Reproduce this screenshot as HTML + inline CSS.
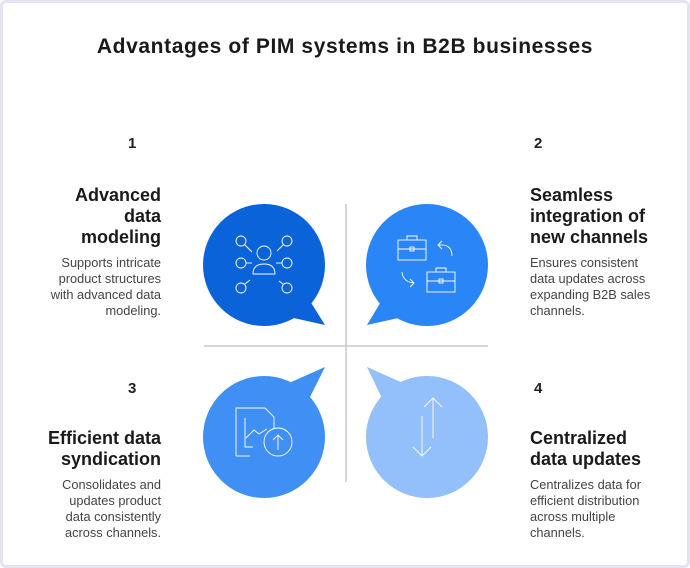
<!DOCTYPE html>
<html><head><style>
body{margin:0;width:690px;height:568px;background:#fff;font-family:"Liberation Sans",sans-serif;}
.frame{position:absolute;left:0;top:0;width:684px;height:562px;border:3px solid #e3e3f3;border-radius:6px;}
h1{position:absolute;left:0;width:690px;top:35px;margin:0;text-align:center;font-size:21px;letter-spacing:0.6px;font-weight:bold;color:#1a1a1a;}
.n{position:absolute;font-size:15px;font-weight:bold;color:#222;}
.h{position:absolute;font-size:18px;font-weight:bold;line-height:21px;color:#1a1a1a;white-space:nowrap;}
.b{position:absolute;font-size:12.8px;line-height:16px;color:#444;white-space:nowrap;}
.r{text-align:right;right:529px;}
.l{text-align:left;left:530px;}
</style></head><body>
<div class="frame"></div>
<h1>Advantages of PIM systems in B2B businesses</h1>
<div class="n" style="left:128px;top:135px">1</div>
<div class="n" style="left:534px;top:135px">2</div>
<div class="n" style="left:128px;top:380px">3</div>
<div class="n" style="left:534px;top:380px">4</div>
<div class="h r" style="top:185px">Advanced<br>data<br>modeling</div>
<div class="b r" style="top:255px">Supports intricate<br>product structures<br>with advanced data<br>modeling.</div>
<div class="h l" style="top:185px">Seamless<br>integration of<br>new channels</div>
<div class="b l" style="top:255px">Ensures consistent<br>data updates across<br>expanding B2B sales<br>channels.</div>
<div class="h r" style="top:428px">Efficient data<br>syndication</div>
<div class="b r" style="top:477px">Consolidates and<br>updates product<br>data consistently<br>across channels.</div>
<div class="h l" style="top:428px">Centralized<br>data updates</div>
<div class="b l" style="top:477px">Centralizes data for<br>efficient distribution<br>across multiple<br>channels.</div>
<svg width="690" height="568" style="position:absolute;left:0;top:0">
<line x1="346" y1="204" x2="346" y2="482" stroke="#c8c8c8" stroke-width="1.5"/>
<line x1="204" y1="346" x2="488" y2="346" stroke="#c8c8c8" stroke-width="1.5"/>
<g fill="#0a63d8"><circle cx="264" cy="265" r="61"/><polygon points="300,285 325,325 280,315"/></g>
<g fill="#2a85f6"><circle cx="427" cy="265" r="61"/><polygon points="391,285 367,325 412,315"/></g>
<g fill="#3f8ff4"><circle cx="264" cy="437" r="61"/><polygon points="300,417 325,367 280,387"/></g>
<g fill="#93c0fa"><circle cx="427" cy="437" r="61"/><polygon points="391,417 367,367 412,387"/></g>
<g stroke="#fff" stroke-width="0.9" fill="none">
<circle cx="264" cy="253" r="7"/><path d="M253,274 q0,-10 11,-10 q11,0 11,10 z"/>
<circle cx="241" cy="241" r="5"/><circle cx="287" cy="241" r="5"/><circle cx="241" cy="263" r="5"/><circle cx="287" cy="263" r="5"/><circle cx="241" cy="288" r="5"/><circle cx="287" cy="288" r="5"/>
<line x1="245" y1="245" x2="252" y2="252"/><line x1="283" y1="245" x2="277" y2="251"/><line x1="246" y1="263" x2="252" y2="263"/><line x1="276" y1="263" x2="282" y2="263"/><line x1="245" y1="284" x2="250" y2="280"/><line x1="283" y1="284" x2="279" y2="281"/>
<rect x="398" y="240" width="28" height="20"/><path d="M407,240 v-4 h10 v4"/><line x1="398" y1="249" x2="426" y2="249"/><rect x="410" y="247" width="4" height="4"/>
<rect x="427" y="272" width="28" height="20"/><path d="M436,272 v-4 h10 v4"/><line x1="427" y1="281" x2="455" y2="281"/><rect x="439" y="279" width="4" height="4"/>
<path d="M452,256 q0,-12 -13,-11 M442,241 l-4,4 4,4"/><path d="M402,272 q1,10 12,11 M410,279 l4,4 -4,4"/>
<path d="M236,456 v-48 h29 l9,9 v12"/><path d="M236,456 h14"/><path d="M245,418 v29 h8"/><path d="M246,438 l8,-8 5,4 8,-5"/>
<circle cx="278" cy="442" r="14"/><path d="M278,450 v-15 M273,440 l5,-5 5,5"/>
<path d="M433,398 v40 M424,407 l9,-9 9,9"/><path d="M422,416 v40 M413,447 l9,9 9,-9"/>
</g>
</svg>
</body></html>
